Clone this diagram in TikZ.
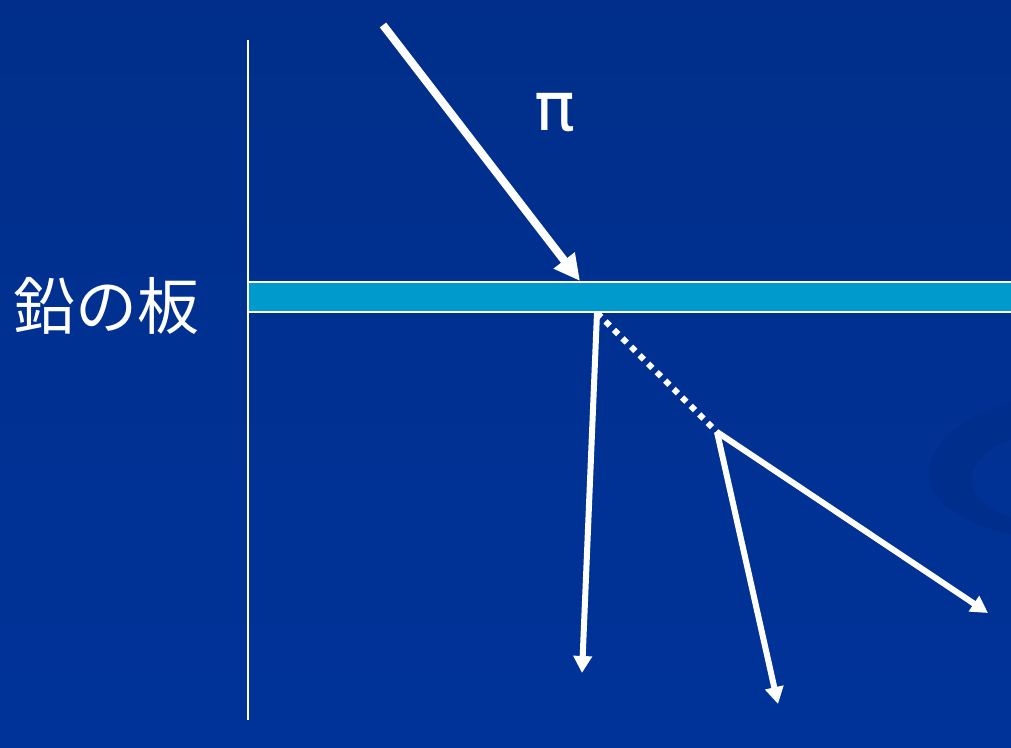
\documentclass[tikz,border=0pt]{standalone}
\usepackage{fontspec}
\setmainfont{DejaVu Sans}
\newfontfamily\jpfont{Noto Sans CJK JP}
\usepackage{tikz}
\usetikzlibrary{arrows.meta}

\definecolor{bgblue}{RGB}{0,51,153}
\definecolor{bgtop}{RGB}{0,46,138}
\definecolor{swirl}{RGB}{0,46,140}
\definecolor{platecyan}{RGB}{0,154,204}

\begin{document}
\begin{tikzpicture}[
  x=1pt, y=-1pt,
  ray/.style    ={draw=white, line width=6pt,
                  -{Triangle[length=17pt,width=18pt]}},
  beam/.style   ={draw=white, line width=8pt,
                  -{Triangle[length=26pt,width=25pt]}},
  track/.style  ={draw=white, line width=6pt, dash pattern=on 6pt off 6pt},
  edge/.style   ={draw=white, line width=2pt},
  lbl/.style    ={text=white, inner sep=0pt}]

%---------------- background ----------------
\shade[top color=bgtop, bottom color=bgblue] (0,0) rectangle (1011,747);
\useasboundingbox (0,0) rectangle (1011,747);
\fill[swirl] (1011,402) .. controls (950,420) and (922,455) .. (930,485)
  .. controls (940,510) and (980,528) .. (1011,535)
  -- (1011,518) .. controls (985,508) and (968,492) .. (972,472)
  .. controls (977,455) and (995,445) .. (1011,440) -- cycle;

%---------------- plate ----------------
\coordinate (wallT) at (248,40);
\coordinate (wallB) at (248,720);
\fill[platecyan] (248,282) rectangle (1011,312);
\draw[edge] (248,282) -- (1011,282);
\draw[edge] (248,312) -- (1011,312);
\draw[edge] (wallT) -- (wallB);
\node[lbl, font=\jpfont\fontsize{62}{64}\selectfont] (lead) at (106,306) {鉛の板};

%---------------- pion and products ----------------
\coordinate (src)  at (383,25);
\coordinate (hit)  at (580,281);
\coordinate (exit) at (597,313);
\coordinate (dec)  at (717,432);
\coordinate (out1) at (582,673);
\coordinate (out2) at (778,704);
\coordinate (out3) at (988,613);
\node[lbl, font=\fontsize{68}{70}\selectfont] (pi) at (555,113) {π};

\draw[beam]  (src)  -- (hit);
\draw[ray]   (exit) -- (out1);
\draw[track] (exit) -- (dec);
\draw[ray]   (dec)  -- (out2);
\draw[ray]   (dec)  -- (out3);

\end{tikzpicture}
\end{document}
